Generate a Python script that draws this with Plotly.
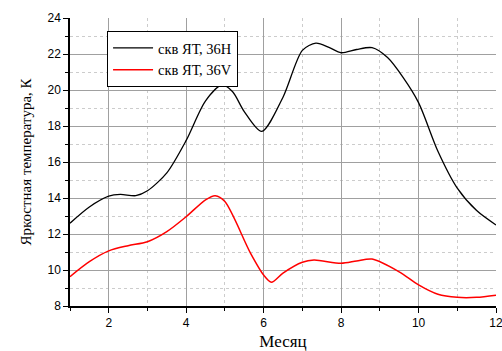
import plotly.graph_objects as go

# Monthly brightness temperature (K)
months_h = [1, 1.5, 2, 2.3, 2.7, 3, 3.5, 4, 4.5, 4.93, 5.2, 5.5, 5.95, 6.5, 7, 7.35, 7.7, 8, 8.4, 8.8, 9.2, 9.6, 10, 10.5, 11, 11.5, 12]
tb_36h = [12.6, 13.5, 14.1, 14.2, 14.13, 14.4, 15.4, 17.2, 19.4, 20.28, 19.9, 18.8, 17.7, 19.6, 22.2, 22.6, 22.35, 22.07, 22.25, 22.35, 21.8, 20.7, 19.3, 16.6, 14.55, 13.3, 12.5]

months_v = [1, 1.5, 2, 2.5, 3, 3.5, 4, 4.5, 4.75, 5, 5.66, 6, 6.2, 6.5, 7, 7.3, 8, 8.4, 8.8, 9.5, 10, 10.5, 11, 11.5, 12]
tb_36v = [9.63, 10.46, 11.06, 11.35, 11.57, 12.13, 12.96, 13.9, 14.13, 13.8, 10.94, 9.72, 9.32, 9.83, 10.43, 10.55, 10.37, 10.5, 10.61, 9.9, 9.17, 8.65, 8.48, 8.48, 8.6]

series_names = ["скв ЯТ, 36H", "скв ЯТ, 36V"]
x_ticks = [2, 4, 6, 8, 10, 12]
y_ticks = [8, 10, 12, 14, 16, 18, 20, 22, 24]

fig = go.Figure()
fig.add_trace(go.Scatter(x=months_h, y=tb_36h, mode="lines", name=series_names[0],
                         line=dict(color="black", width=1.3, shape="spline", smoothing=0.8)))
fig.add_trace(go.Scatter(x=months_v, y=tb_36v, mode="lines", name=series_names[1],
                         line=dict(color="#ff0000", width=1.5, shape="spline", smoothing=0.8)))

axis_common = dict(
    showline=True, linecolor="black", linewidth=1.5, mirror=False,
    ticks="outside", ticklen=5, tickwidth=1, tickcolor="black",
    showgrid=True, gridcolor="#a0a0a0", gridwidth=1,
    tickfont=dict(family="Liberation Sans, Arial, sans-serif", size=12, color="black"),
    ticklabeloverflow="allow",
    zeroline=False,
    minor=dict(ticks="outside", ticklen=3, tickcolor="black", showgrid=True,
               gridcolor="#cccccc", griddash="dot", gridwidth=1),
)

fig.update_xaxes(range=[1, 12], tickvals=x_ticks, minor_dtick=1, minor_tick0=1,
                 title=dict(text="Месяц", font=dict(family="Liberation Serif, Times New Roman, serif", size=17, color="black"), standoff=8),
                 **axis_common)
fig.update_yaxes(range=[8, 24], tickvals=y_ticks, minor_dtick=1, minor_tick0=1,
                 title=dict(text="Яркостная температура, К", font=dict(family="Liberation Serif, Times New Roman, serif", size=15, color="black"), standoff=12),
                 **axis_common)

fig.update_layout(
    width=502, height=351,
    margin=dict(l=70, r=6, t=18, b=45, autoexpand=False),
    paper_bgcolor="white", plot_bgcolor="white",
    showlegend=True,
    legend=dict(x=0.087, y=0.955, xanchor="left", yanchor="top",
                bgcolor="white", bordercolor="black", borderwidth=1,
                font=dict(family="Liberation Serif, Times New Roman, serif", size=14.5, color="black"),
                tracegroupgap=0, itemwidth=40),
)

fig.write_html("out.html")
